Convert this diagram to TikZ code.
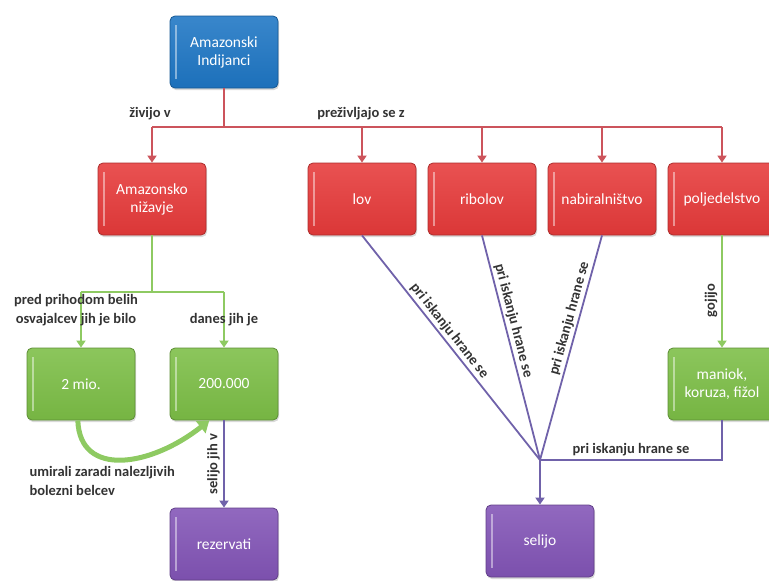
\documentclass[tikz,border=0pt]{standalone}
\usepackage{fontspec}
\setmainfont{Carlito}
\usetikzlibrary{arrows.meta}
\usetikzlibrary{shadows}

\definecolor{indblue}{RGB}{30,118,196}
\definecolor{boxred}{RGB}{230,58,58}
\definecolor{boxgreen}{RGB}{124,190,70}
\definecolor{boxpurple}{RGB}{130,84,182}
\definecolor{linered}{RGB}{204,84,92}
\definecolor{linegreen}{RGB}{142,202,98}
\definecolor{linepurple}{RGB}{112,98,170}

\begin{document}
\begin{tikzpicture}[x=1pt, y=-1pt,
  box/.style={rectangle, rounded corners=5pt, minimum width=108pt, minimum height=72pt,
    draw=#1!75!black, line width=0.8pt, top color=#1!88!white, bottom color=#1!95!black,
    text=white, align=center, font=\fontsize{15.5}{18}\selectfont,
    drop shadow={opacity=0.3, shadow xshift=1pt, shadow yshift=-2pt},
    path picture={\draw[white, opacity=.45, line width=1.2pt]
      ([xshift=6pt,yshift=-9pt]path picture bounding box.north west) --
      ([xshift=6pt,yshift=9pt]path picture bounding box.south west);}},
  lab/.style={font=\fontsize{14.5}{19}\selectfont\bfseries, text=black!80},
  redline/.style={draw=linered, line width=2.3pt},
  greenline/.style={draw=linegreen, line width=2.5pt},
  purpline/.style={draw=linepurple, line width=1.8pt}]
  \tikzset{>={Triangle[width=9pt,length=7pt]}}

  \useasboundingbox (0,0) rectangle (769,581);

  %% boxes
  \node[box=indblue] (ind) at (224,52) {Amazonski\\Indijanci};

  \node[box=boxred] (niz) at (152,199) {Amazonsko\\nižavje};
  \foreach \name/\x/\txt in {lov/362/lov, rib/482/ribolov, nab/602/nabiralništvo, pol/722/poljedelstvo}
    \node[box=boxred] (\name) at (\x,199) {\txt};

  \node[box=boxgreen] (mio) at (81,384) {2 mio.};
  \node[box=boxgreen] (dan) at (224,384) {200.000};
  \node[box=boxgreen] (man) at (722,384) {maniok,\\koruza, fižol};

  \node[box=boxpurple] (rez) at (224,544) {rezervati};
  \node[box=boxpurple] (sel) at (540,541) {selijo};

  %% red tree
  \coordinate (rj) at (224,127);
  \draw[redline] (ind.south) -- (rj);
  \draw[redline] (niz.north |- rj) -- (pol.north |- rj);
  \foreach \name in {niz,lov,rib,nab,pol}
    \draw[redline,->] (\name.north |- rj) -- (\name.north);

  \node[lab] (zv) at (150,114) {živijo v};
  \node[lab] (pz) at (361,114) {preživljajo se z};

  %% green tree
  \coordinate (gj) at (152,292);
  \draw[greenline] (niz.south) -- (gj);
  \draw[greenline] (mio.north |- gj) -- (dan.north |- gj);
  \foreach \name in {mio,dan}
    \draw[greenline,->] (\name.north |- gj) -- (\name.north);
  \draw[greenline,->] (pol.south) -- (man.north)
    node[lab, pos=.58, rotate=90, anchor=south] {gojijo};

  \node[lab, align=center] (prb) at (76,310) {pred prihodom belih\\osvajalcev jih je bilo};
  \node[lab] (dj) at (224,320) {danes jih je};

  %% dying out
  \draw[greenline, line width=5pt, -{Triangle[width=15pt,length=11pt]}]
    (mio.-95) .. controls +(2,58) and +(-58,46) .. (dan.-112);
  \node[lab, align=left, anchor=west] (umr) at (26,481) {umirali zaradi nalezljivih\\bolezni belcev};

  %% purple
  \draw[purpline,->] (dan.south) -- (rez.north)
    node[lab, midway, rotate=90, anchor=south] {selijo jih v};

  \coordinate (sj) at (540,460);
  \foreach \name/\p in {lov/.45, rib/.39, nab/.38}
    \draw[purpline] (\name.south) -- (sj)
      node[lab, pos=\p, sloped, above, inner sep=2pt] {pri iskanju hrane se};
  \draw[purpline] (man.south) |- (sj)
    node[lab, pos=.75, above] {pri iskanju hrane se};
  \draw[purpline,->] (sj) -- (sel.north);

\end{tikzpicture}
\end{document}
